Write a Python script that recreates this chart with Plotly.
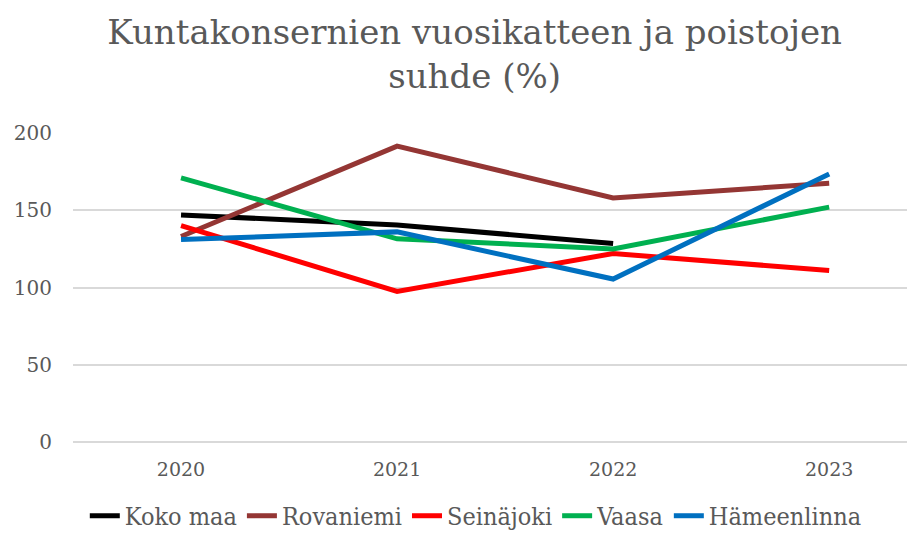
import plotly.graph_objects as go

years = ['2020', '2021', '2022', '2023']

koko_maa = [147, 140.5, 128.5, None]
rovaniemi = [133, 191.5, 158, 167.5]
seinajoki = [140, 97.5, 122, 111]
vaasa = [171, 131.5, 125, 152]
hameenlinna = [131, 136, 105.5, 173.5]

series = [
    ('Koko maa', koko_maa, '#000000'),
    ('Rovaniemi', rovaniemi, '#943634'),
    ('Seinäjoki', seinajoki, '#FF0000'),
    ('Vaasa', vaasa, '#00B050'),
    ('Hämeenlinna', hameenlinna, '#0070C0'),
]

fig = go.Figure()
for name, vals, col in series:
    fig.add_trace(go.Scatter(x=years, y=vals, name=name, mode='lines',
                             line=dict(color=col, width=5), connectgaps=False))

fig.update_layout(
    width=915, height=533,
    paper_bgcolor='white', plot_bgcolor='white',
    margin=dict(l=65, r=2, t=125, b=96),
    title=dict(text='Kuntakonsernien vuosikatteen ja poistojen<br>suhde (%)',
               x=0.51, xanchor='center', yref='container', y=0.932, yanchor='middle',
               font=dict(family='DejaVu Serif', size=34, color='#595959')),
    font=dict(family='DejaVu Serif', color='#595959'),
    xaxis=dict(type='category', range=[-0.5, 3.425], showgrid=False, showline=False,
               zeroline=False, tickfont=dict(size=19, color='#595959'), ticks='',
               ticklabelstandoff=14, automargin=False),
    yaxis=dict(range=[0, 200], dtick=50, showgrid=True, gridcolor='#D9D9D9',
               gridwidth=2, zeroline=True, zerolinecolor='#D9D9D9', zerolinewidth=2,
               tickfont=dict(size=20, color='#595959'), ticks='', ticklabelstandoff=20,
               automargin=False),
    legend=dict(orientation='h', x=0.475, xanchor='center', y=-0.165, yanchor='top',
                font=dict(family='DejaVu Serif Condensed', size=25, color='#595959'),
                tracegroupgap=0),
)

fig.write_html('out.html')
